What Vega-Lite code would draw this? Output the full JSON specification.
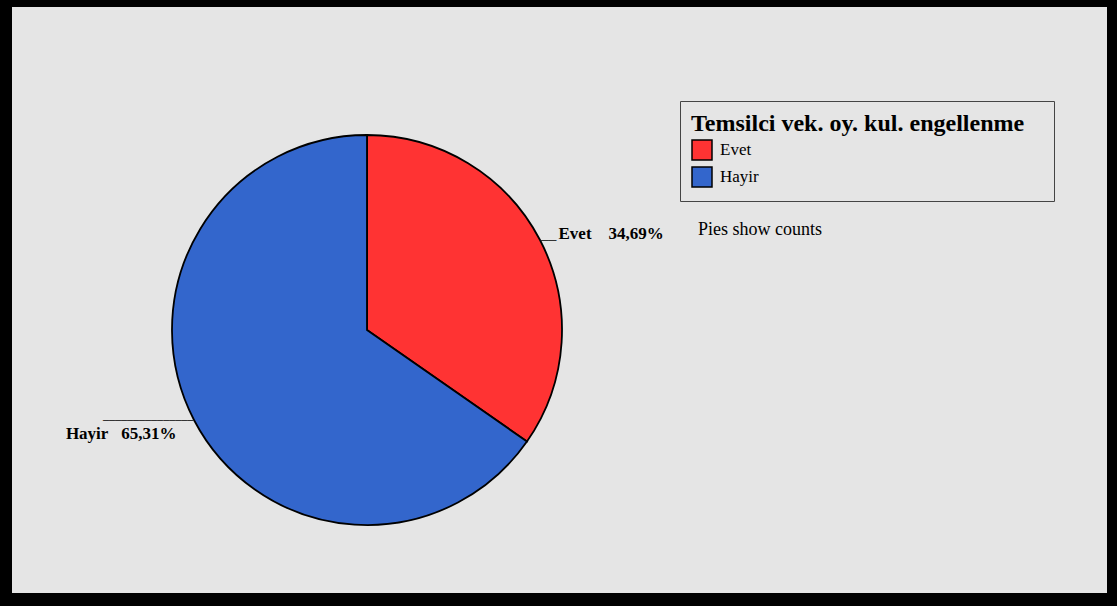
{
  "$schema": "https://vega.github.io/schema/vega-lite/v6.json",
  "width": 1095,
  "height": 586,
  "autosize": {"type": "none"},
  "padding": {"left": 12, "top": 7, "right": 10, "bottom": 13},
  "background": "#000000",
  "config": {"view": {"fill": "#e5e5e5", "stroke": null}, "legend": {"symbolStrokeWidth": 1.5}},
  "datasets": {
    "pie": [
      {"cat": "Evet", "pct": 34.69, "labelL": "Evet\u00a0\u00a0\u00a0\u00a034,69%", "labelR": "", "lineL": "──", "lineR": ""},
      {"cat": "Hayir", "pct": 65.31, "labelL": "", "labelR": "Hayir\u00a0\u00a0\u00a065,31%", "lineL": "", "lineR": "───────────────"}
    ],
    "note": [{"note": "Pies show counts"}]
  },
  "layer": [
    {
      "data": {"name": "pie"},
      "mark": {"type": "arc", "outerRadius": 195, "stroke": "#000000", "strokeWidth": 1.8},
      "encoding": {
        "x": {"datum": 0.3242, "type": "quantitative", "scale": {"domain": [0, 1]}, "axis": null},
        "y": {"datum": 0.4488, "type": "quantitative", "scale": {"domain": [0, 1]}, "axis": null},
        "theta": {"field": "pct", "type": "quantitative", "stack": true},
        "order": {"field": "cat", "type": "nominal", "sort": "ascending"},
        "color": {
          "field": "cat", "type": "nominal",
          "scale": {"domain": ["Evet", "Hayir"], "range": ["#ff3333", "#3366cc"]},
          "legend": {
            "orient": "none", "legendX": 668, "legendY": 94,
            "title": "Temsilci vek. oy. kul. engellenme\u2800",
            "titleLimit": 1000,
            "titleFont": "Liberation Serif", "titleFontSize": 24, "titleFontWeight": "bold", "titleColor": "#000000",
            "labelFont": "Liberation Serif", "labelFontSize": 17, "labelColor": "#000000",
            "symbolType": "square", "symbolSize": 400, "symbolStrokeColor": "#000000", "symbolOpacity": 1,
            "strokeColor": "#444444", "padding": 11, "titlePadding": 3, "rowPadding": 1, "labelOffset": 7
          }
        }
      }
    },
    {
      "data": {"name": "pie"},
      "mark": {"type": "text", "radius": 216, "align": "left", "baseline": "middle", "dy": 4, "font": "Liberation Serif", "fontSize": 17, "fontWeight": "bold"},
      "encoding": {
        "x": {"datum": 0.3242, "type": "quantitative"},
        "y": {"datum": 0.4488, "type": "quantitative"},
        "theta": {"field": "pct", "type": "quantitative", "stack": true},
        "order": {"field": "cat", "type": "nominal", "sort": "ascending"},
        "detail": {"field": "cat", "type": "nominal"},
        "text": {"field": "labelL"},
        "color": {"value": "#000000"}
      }
    },
    {
      "data": {"name": "pie"},
      "mark": {"type": "text", "radius": 215, "align": "right", "baseline": "middle", "dy": 4.5, "font": "Liberation Serif", "fontSize": 17, "fontWeight": "bold"},
      "encoding": {
        "x": {"datum": 0.3242, "type": "quantitative"},
        "y": {"datum": 0.4488, "type": "quantitative"},
        "theta": {"field": "pct", "type": "quantitative", "stack": true},
        "order": {"field": "cat", "type": "nominal", "sort": "ascending"},
        "detail": {"field": "cat", "type": "nominal"},
        "text": {"field": "labelR"},
        "color": {"value": "#000000"}
      }
    },
    {
      "data": {"name": "pie"},
      "mark": {"type": "text", "radius": 196, "align": "left", "baseline": "middle", "dy": 2, "font": "DejaVu Sans Mono", "fontSize": 13},
      "encoding": {
        "x": {"datum": 0.3242, "type": "quantitative"},
        "y": {"datum": 0.4488, "type": "quantitative"},
        "theta": {"field": "pct", "type": "quantitative", "stack": true},
        "order": {"field": "cat", "type": "nominal", "sort": "ascending"},
        "detail": {"field": "cat", "type": "nominal"},
        "text": {"field": "lineL"},
        "color": {"value": "#333333"}
      }
    },
    {
      "data": {"name": "pie"},
      "mark": {"type": "text", "radius": 196, "align": "right", "baseline": "middle", "dy": 0, "font": "DejaVu Sans Mono", "fontSize": 10},
      "encoding": {
        "x": {"datum": 0.3242, "type": "quantitative"},
        "y": {"datum": 0.4488, "type": "quantitative"},
        "theta": {"field": "pct", "type": "quantitative", "stack": true},
        "order": {"field": "cat", "type": "nominal", "sort": "ascending"},
        "detail": {"field": "cat", "type": "nominal"},
        "text": {"field": "lineR"},
        "color": {"value": "#222222"}
      }
    },
    {
      "data": {"name": "note"},
      "mark": {"type": "text", "align": "left", "baseline": "middle", "font": "Liberation Serif", "fontSize": 18, "color": "#000000"},
      "encoding": {
        "x": {"datum": 0.6265, "type": "quantitative"},
        "y": {"datum": 0.6195, "type": "quantitative"},
        "text": {"field": "note"}
      }
    }
  ]
}
